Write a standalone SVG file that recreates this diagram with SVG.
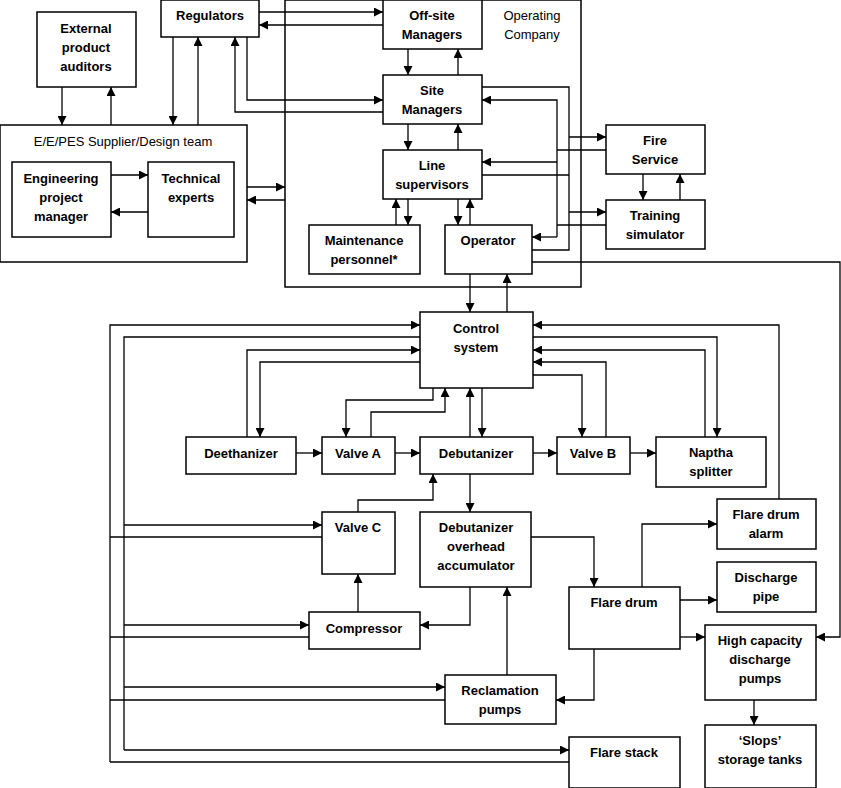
<svg xmlns="http://www.w3.org/2000/svg" width="841" height="788" viewBox="0 0 841 788">
<style>
rect{fill:#fff;stroke:#000;stroke-width:1.5}
.c rect{fill:none}
text{font-family:"Liberation Sans",Arial,sans-serif;font-size:13px;font-weight:bold;text-anchor:middle;fill:#000}
.n{font-weight:normal}
#conn path{fill:none;stroke:#000;stroke-width:1.3}
#conn .a{marker-end:url(#ah)}
</style>
<defs><marker id="ah" viewBox="0 0 10 10" refX="10" refY="5" markerWidth="9" markerHeight="9" markerUnits="userSpaceOnUse" orient="auto"><path d="M0,0L10,5L0,10z" fill="#000"/></marker></defs>
<rect width="841" height="788" style="fill:#fff;stroke:none"/>
<g id="opco" class="c"><rect x="285" y="0" width="296" height="287"/><text class="n" x="532" y="20">Operating</text><text class="n" x="532" y="39">Company</text></g>
<g id="eepes" class="c"><rect x="0" y="125" width="247" height="137"/><text class="n" x="123" y="146">E/E/PES Supplier/Design team</text></g>
<g id="ext"><rect x="37" y="12" width="99" height="75"/><text x="86" y="33">External</text><text x="86" y="52">product</text><text x="86" y="71">auditors</text></g>
<g id="reg"><rect x="161" y="0" width="98" height="37"/><text x="210" y="20">Regulators</text></g>
<g id="epm"><rect x="12" y="162" width="99" height="75"/><text x="61" y="183">Engineering</text><text x="61" y="202">project</text><text x="61" y="221">manager</text></g>
<g id="tech"><rect x="148" y="162" width="86" height="75"/><text x="191" y="183">Technical</text><text x="191" y="202">experts</text></g>
<g id="offsite"><rect x="383" y="0" width="99" height="49"/><text x="432" y="20">Off-site</text><text x="432" y="39">Managers</text></g>
<g id="site"><rect x="383" y="75" width="99" height="49"/><text x="432" y="95">Site</text><text x="432" y="114">Managers</text></g>
<g id="line"><rect x="383" y="150" width="99" height="49"/><text x="432" y="170">Line</text><text x="432" y="189">supervisors</text></g>
<g id="maint"><rect x="309" y="225" width="111" height="49"/><text x="364" y="245">Maintenance</text><text x="364" y="264">personnel*</text></g>
<g id="oper"><rect x="445" y="225" width="87" height="49"/><text x="488" y="245">Operator</text></g>
<g id="fire"><rect x="606" y="125" width="99" height="49"/><text x="655" y="145">Fire</text><text x="655" y="164">Service</text></g>
<g id="train"><rect x="606" y="200" width="99" height="49"/><text x="655" y="220">Training</text><text x="655" y="239">simulator</text></g>
<g id="ctrl"><rect x="420" y="312" width="113" height="76"/><text x="476" y="333">Control</text><text x="476" y="352">system</text></g>
<g id="deeth"><rect x="186" y="437" width="110" height="37"/><text x="241" y="458">Deethanizer</text></g>
<g id="va"><rect x="322" y="437" width="73" height="37"/><text x="358" y="458">Valve A</text></g>
<g id="debut"><rect x="420" y="437" width="113" height="37"/><text x="476" y="458">Debutanizer</text></g>
<g id="vb"><rect x="557" y="437" width="73" height="37"/><text x="593" y="458">Valve B</text></g>
<g id="naptha"><rect x="656" y="437" width="110" height="50"/><text x="711" y="457">Naptha</text><text x="711" y="476">splitter</text></g>
<g id="vc"><rect x="322" y="512" width="73" height="62"/><text x="358" y="532">Valve C</text></g>
<g id="accum"><rect x="420" y="512" width="111" height="75"/><text x="476" y="532">Debutanizer</text><text x="476" y="551">overhead</text><text x="476" y="570">accumulator</text></g>
<g id="comp"><rect x="309" y="612" width="111" height="37"/><text x="364" y="633">Compressor</text></g>
<g id="flare"><rect x="569" y="587" width="111" height="62"/><text x="624" y="607">Flare drum</text></g>
<g id="alarm"><rect x="717" y="499" width="99" height="50"/><text x="766" y="519">Flare drum</text><text x="766" y="538">alarm</text></g>
<g id="dpipe"><rect x="717" y="562" width="99" height="50"/><text x="766" y="582">Discharge</text><text x="766" y="601">pipe</text></g>
<g id="hcp"><rect x="705" y="625" width="111" height="75"/><text x="760" y="645">High capacity</text><text x="760" y="664">discharge</text><text x="760" y="683">pumps</text></g>
<g id="slops"><rect x="705" y="725" width="111" height="63"/><text x="760" y="745">‘Slops’</text><text x="760" y="764">storage tanks</text></g>
<g id="recl"><rect x="445" y="675" width="111" height="49"/><text x="500" y="695">Reclamation</text><text x="500" y="714">pumps</text></g>
<g id="fstack"><rect x="569" y="737" width="111" height="51"/><text x="624" y="757">Flare stack</text></g>
<g id="conn">
<path class="a" d="M62,87V125"/><path class="a" d="M111,125V87"/>
<path class="a" d="M173,37V125"/><path class="a" d="M198,125V37"/>
<path class="a" d="M259,12H383"/><path class="a" d="M383,25H259"/>
<path class="a" d="M247,37V100H383"/><path class="a" d="M383,112H235V37"/>
<path class="a" d="M111,175H148"/><path class="a" d="M148,212H111"/>
<path class="a" d="M247,187H285"/><path class="a" d="M285,200H247"/>
<path class="a" d="M408,49V75"/><path class="a" d="M458,75V49"/>
<path class="a" d="M408,124V150"/><path class="a" d="M458,150V124"/>
<path class="a" d="M396,225V199"/><path class="a" d="M408,199V225"/>
<path class="a" d="M458,199V225"/><path class="a" d="M470,225V199"/>
<path d="M482,87H569V250H532"/><path d="M482,175H569"/>
<path class="a" d="M569,137H606"/><path class="a" d="M569,212H606"/>
<path d="M606,150H557"/><path d="M606,225H557"/>
<path class="a" d="M557,237V100H482"/><path class="a" d="M557,162H482"/><path class="a" d="M557,237H532"/>
<path class="a" d="M643,174V200"/><path class="a" d="M680,200V174"/>
<path class="a" d="M532,262H840V637H816"/>
<path class="a" d="M470,274V312"/><path class="a" d="M507,312V274"/>
<path class="a" d="M110,762V325H420"/><path d="M420,337H124V750"/>
<path class="a" d="M124,525H322"/><path d="M322,537H110"/>
<path class="a" d="M124,625H309"/><path d="M309,637H110"/>
<path class="a" d="M124,687H445"/><path d="M445,700H110"/>
<path class="a" d="M124,750H569"/><path d="M569,762H110"/>
<path class="a" d="M247,437V350H420"/><path class="a" d="M420,362H260V437"/>
<path class="a" d="M433,388V400H346V437"/><path class="a" d="M371,437V412H445V388"/>
<path class="a" d="M470,437V388"/><path class="a" d="M482,388V437"/>
<path class="a" d="M533,375H582V437"/><path class="a" d="M606,437V362H533"/>
<path class="a" d="M705,437V350H533"/><path class="a" d="M533,337H717V437"/>
<path class="a" d="M779,499V325H533"/>
<path class="a" d="M296,453H322"/><path class="a" d="M395,453H420"/><path class="a" d="M533,453H557"/><path class="a" d="M630,453H656"/>
<path class="a" d="M358,512V500H433V474"/>
<path class="a" d="M470,474V512"/>
<path class="a" d="M531,537H594V587"/>
<path class="a" d="M470,587V625H420"/>
<path class="a" d="M358,612V574"/>
<path class="a" d="M507,675V587"/>
<path class="a" d="M594,649V700H556"/>
<path class="a" d="M642,587V524H717"/>
<path class="a" d="M680,600H717"/>
<path class="a" d="M680,637H705"/>
<path class="a" d="M754,700V725"/>
</g>
</svg>
